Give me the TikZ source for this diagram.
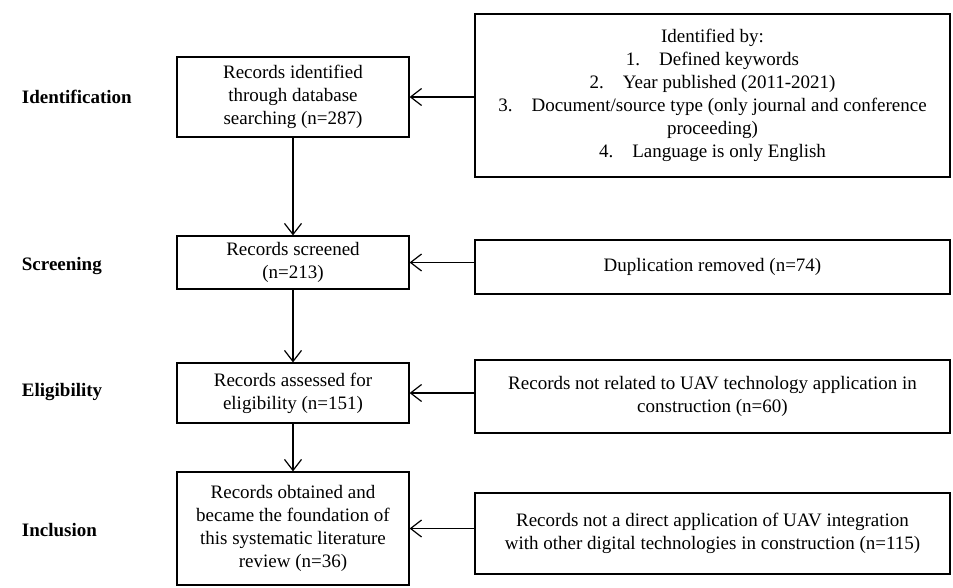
\documentclass[tikz,border=0pt]{standalone}
\usepackage{fontspec}
\setmainfont{Liberation Serif}
\usetikzlibrary{arrows.meta}

\tikzset{
  box/.style={draw, line width=1.2pt, align=center, inner sep=2pt},
  stage/.style={anchor=west, font=\fontsize{19}{23}\selectfont\bfseries},
}

\begin{document}
\begin{tikzpicture}[x=1pt,y=-1pt,line width=1.2pt,>={Straight Barb[length=11pt,width=17pt]},
  font=\fontsize{19}{23}\selectfont]

\useasboundingbox (0,0) rectangle (953,587);

\def\lw{232}
\def\rw{475}

\node[stage] (lid) at (18,97) {Identification};
\node[stage] (lsc) at (18,266) {Screening};
\node[stage] (lel) at (18,392) {Eligibility};
\node[stage] (lin) at (18,530) {Inclusion};

\node[box, minimum width=\lw, minimum height=80] (b1) at (293,97)
  {Records identified\\through database\\searching (n=287)};
\node[box, minimum width=\lw, minimum height=53] (b2) at (293,262.5)
  {Records screened\\(n=213)};
\node[box, minimum width=\lw, minimum height=60] (b3) at (293,393)
  {Records assessed for\\eligibility (n=151)};
\node[box, minimum width=\lw, minimum height=113] (b4) at (293,528.5)
  {Records obtained and\\became the foundation of\\this systematic literature\\review (n=36)};

\node[box, minimum width=\rw, minimum height=163] (r1) at (712.5,95.5)
  {Identified by:\\1.\quad Defined keywords\\2.\quad Year published (2011-2021)\\
   3.\quad Document/source type (only journal and conference\\proceeding)\\4.\quad Language is only English};
\node[box, minimum width=\rw, minimum height=54] (r2) at (712.5,267)
  {Duplication removed (n=74)};
\node[box, minimum width=\rw, minimum height=73] (r3) at (712.5,396.5)
  {Records not related to UAV technology application in\\construction (n=60)};
\node[box, minimum width=\rw, minimum height=81] (r4) at (712.5,533.5)
  {Records not a direct application of UAV integration\\with other digital technologies in construction (n=115)};

\foreach \i/\j in {1/2,2/3,3/4} {
  \draw[->] (b\i) -- (b\j);
}
\foreach \i in {1,...,4} {
  \draw[<-] (b\i.east) -- (b\i.east -| r\i.west);
}

\end{tikzpicture}
\end{document}
